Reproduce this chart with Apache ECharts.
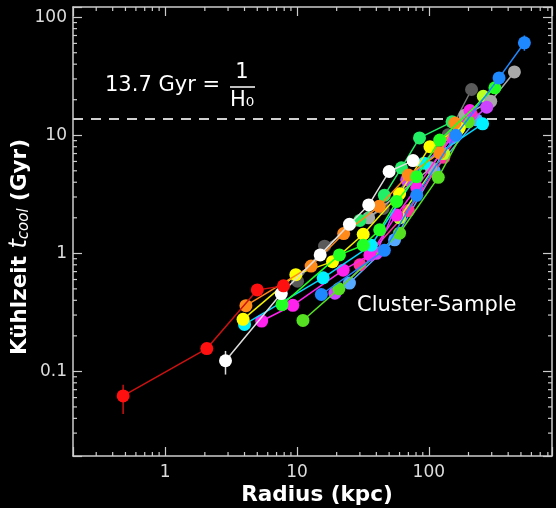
<!DOCTYPE html>
<html><head><meta charset="utf-8">
<script src="https://cdn.jsdelivr.net/npm/echarts@6/dist/echarts.min.js"></script>
<style>html,body{margin:0;padding:0;background:#000}#c{width:556px;height:508px}</style>
</head><body><div id="c"></div>
<script>
// ---- axis ranges & ticks ----
const X_MIN = 0.2, X_MAX = 860;
const Y_MIN = 0.0192, Y_MAX = 122;
const xTickLabels = [1, 10, 100];
const yTickLabels = [0.1, 1, 10, 100];
const xMinorTicks = [0.3,0.4,0.5,0.6,0.7,0.8,0.9,2,3,4,5,6,7,8,9,20,30,40,50,60,70,80,90,200,300,400,500,600,700,800];
const yMinorTicks = [0.03,0.04,0.05,0.06,0.07,0.08,0.09,0.2,0.3,0.4,0.5,0.6,0.7,0.8,0.9,2,3,4,5,6,7,8,9,20,30,40,50,60,70,80,90];
const hubbleTime = 13.7;

// ---- cluster profiles: [radius kpc, t_cool Gyr] ----
const clRed     = [[0.48,0.062],[2.07,0.156],[5.0,0.49],[7.9,0.53]];
const clWhite   = [[2.87,0.123],[7.6,0.456],[15,0.97],[25,1.76],[35,2.57],[50,4.93],[76,6.1]];
const clOrange  = [[4.1,0.36],[12.8,0.78],[22.6,1.47],[42,2.5],[70,4.6],[121,7.1],[158,12.7]];
const clYellow  = [[3.9,0.276],[9.8,0.66],[18.6,0.85],[31.8,1.45],[60,3.2],[102,8.0],[170,11.5]];
const clCyan    = [[4.0,0.25],[15.8,0.62],[36.6,1.17],[92,5.8],[256,12.5]];
const clMagenta = [[5.4,0.267],[9.3,0.363],[22.4,0.72],[35.7,0.97],[57,2.11],[81,3.6],[205,16.2]];
const clViolet  = [[19.4,0.46],[40,1.0],[68,4.2],[150,9.5],[275,17.3]];
const clGreen   = [[11.1,0.27],[20.8,0.50],[60,1.48],[118,4.4],[200,13]];
const clLime    = [[7.7,0.368],[21,0.97],[31.8,1.17],[42.4,1.58],[57,2.75],[81,4.45],[121,9.1],[317,25.2]];
const clSpring  = [[30,1.9],[46,3.1],[62,5.3],[85,9.5],[150,13]];
const clBlue    = [[15.3,0.448],[46,1.06],[81,3.1],[160,10],[341,30.6],[531,60.7]];
const clGray    = [[35,2.0],[104,5.3],[188,14.8],[295,19.4],[446,34.4]];
const clDarkGray= [[10.1,0.58],[16.2,1.15],[45,2.4],[140,10.1],[211,24.4]];
const clPink    = [[30,0.8],[70,2.3],[130,6.5],[210,15]];
const clSky     = [[25,0.56],[55,1.3],[110,5],[230,13.5]];
const clYGreen  = [[60,2.0],[130,7],[259,21.4]];

// error bars: [x, low, high]
const errBars = [[0.48,0.0436,0.077,'#cc1111'],[2.87,0.094,0.149,'#dddddd'],[531,52,70,'#1e88ff']];

const profiles = [
  {d:clSky, c:'#55aaff', l:'#55aaff'},
  {d:clPink, c:'#ff3399', l:'#ff3399'},
  {d:clYGreen, c:'#bbff22', l:'#bbff22'},
  {d:clDarkGray, c:'#5a5a5a', l:'#777777'},
  {d:clGray, c:'#a8a8a8', l:'#a8a8a8'},
  {d:clSpring, c:'#22ee66', l:'#22ee66'},
  {d:clViolet, c:'#cc44ff', l:'#cc44ff'},
  {d:clGreen, c:'#55e022', l:'#55e022'},
  {d:clMagenta, c:'#ff22ee', l:'#ff22ee'},
  {d:clCyan, c:'#00f0ff', l:'#00d8ff'},
  {d:clYellow, c:'#ffff00', l:'#eeee00'},
  {d:clOrange, c:'#ff8a1a', l:'#ff8a1a'},
  {d:clLime, c:'#22ff22', l:'#22ff22'},
  {d:clBlue, c:'#1e88ff', l:'#1e88ff'},
  {d:clWhite, c:'#ffffff', l:'#dddddd'},
  {d:clRed, c:'#ff1010', l:'#cc1111'}
];

const FONT = 'DejaVu Sans';
const AX = '#cccccc';
function isPow10(v){ const l = Math.log10(v); return Math.abs(l - Math.round(l)) < 1e-6; }
function fmt(v){ if(!isPow10(v)) return ''; return v >= 1 ? String(Math.round(v)) : String(Math.round(v*10)/10); }

const chart = echarts.init(document.getElementById('c'), null, {renderer:'canvas'});

const series = [];
series.push({
  type:'line', data:[[X_MIN,hubbleTime],[X_MAX,hubbleTime]], symbol:'none', silent:true, z:1,
  lineStyle:{color:'#cfcfcf', width:2, type:[10,8]}
});
series.push({
  type:'custom', data: errBars.map(e=>[e[0],e[1],e[2]]), z:2, silent:true,
  renderItem(params, api){
    const e = errBars[params.dataIndex];
    const p1 = api.coord([api.value(0), api.value(1)]);
    const p2 = api.coord([api.value(0), api.value(2)]);
    return {type:'line', shape:{x1:p1[0],y1:p1[1],x2:p2[0],y2:p2[1]}, style:{stroke:e[3], lineWidth:1.5}};
  }
});
profiles.forEach((p,i)=>{
  series.push({
    type:'line', data:p.d, symbol:'circle', symbolSize:13, z:3+i, silent:true,
    itemStyle:{color:p.c}, lineStyle:{color:p.l, width:1.5}
  });
});
// minor ticks
series.push({
  type:'custom', data: xMinorTicks.map(v=>[v, Y_MIN]), z:20, silent:true, clip:false,
  renderItem(params, api){
    const v = api.value(0);
    const b = api.coord([v, Y_MIN]), t = api.coord([v, Y_MAX]);
    return {type:'group', children:[
      {type:'line', shape:{x1:b[0],y1:b[1],x2:b[0],y2:b[1]-4}, style:{stroke:AX,lineWidth:1.2}},
      {type:'line', shape:{x1:t[0],y1:t[1],x2:t[0],y2:t[1]+4}, style:{stroke:AX,lineWidth:1.2}}
    ]};
  }
});
series.push({
  type:'custom', data: yMinorTicks.map(v=>[X_MIN, v]), z:20, silent:true, clip:false,
  renderItem(params, api){
    const v = api.value(1);
    const l = api.coord([X_MIN, v]), r = api.coord([X_MAX, v]);
    return {type:'group', children:[
      {type:'line', shape:{x1:l[0],y1:l[1],x2:l[0]+4,y2:l[1]}, style:{stroke:AX,lineWidth:1.2}},
      {type:'line', shape:{x1:r[0],y1:r[1],x2:r[0]-4,y2:r[1]}, style:{stroke:AX,lineWidth:1.2}}
    ]};
  }
});

const axisCommon = {
  type:'log', logBase:10, splitLine:{show:false},
  axisLine:{show:true, lineStyle:{color:AX, width:1.5}},
  axisTick:{show:true, inside:true, length:9, lineStyle:{color:AX, width:1.2}},
  minorTick:{show:false}
};

chart.setOption({
  backgroundColor:'#000',
  animation:false,
  grid:{left:73, right:4, top:7, bottom:52, containLabel:false},
  xAxis:[
    Object.assign({}, axisCommon, {min:X_MIN, max:X_MAX, position:'bottom',
      axisLabel:{show:true, formatter:fmt, color:'#dcdcdc', fontSize:17, fontFamily:FONT, margin:8}}),
    Object.assign({}, axisCommon, {min:X_MIN, max:X_MAX, position:'top', axisLabel:{show:false}})
  ],
  yAxis:[
    Object.assign({}, axisCommon, {min:Y_MIN, max:Y_MAX, position:'left',
      axisLabel:{show:true, formatter:fmt, color:'#dcdcdc', fontSize:17, fontFamily:FONT, margin:6}}),
    Object.assign({}, axisCommon, {min:Y_MIN, max:Y_MAX, position:'right', axisLabel:{show:false}})
  ],
  series: series,
  graphic:[
    {type:'text', x:317, y:495, style:{text:'Radius (kpc)', fill:'#fff', font:'bold 21.5px "DejaVu Sans"', align:'center', verticalAlign:'middle'}},
    {type:'text', x:20, y:247, rotation:Math.PI/2, style:{
      text:'{b|Kühlzeit }{t|t}{s|cool}{b| (Gyr)}', align:'center', verticalAlign:'middle', fill:'#fff',
      rich:{
        b:{font:'bold 21.5px "DejaVu Sans"', fill:'#fff'},
        t:{font:'italic 24px "DejaVu Sans"', fill:'#fff'},
        s:{font:'italic 15px "DejaVu Sans"', fill:'#fff', verticalAlign:'bottom', padding:[7,0,0,0]}
      }}},
    {type:'text', x:105, y:86, style:{text:'13.7 Gyr =', fill:'#fff', font:'21px "DejaVu Sans"', align:'left', verticalAlign:'middle'}},
    {type:'text', x:242, y:73, style:{text:'1', fill:'#fff', font:'21px "DejaVu Sans"', align:'center', verticalAlign:'middle'}},
    {type:'line', shape:{x1:230, y1:87, x2:255, y2:87}, style:{stroke:'#fff', lineWidth:1.5}},
    {type:'text', x:242, y:101, style:{text:'H₀', fill:'#fff', font:'21px "DejaVu Sans"', align:'center', verticalAlign:'middle'}},
    {type:'text', x:357, y:306, style:{text:'Cluster-Sample', fill:'#fff', font:'21px "DejaVu Sans"', align:'left', verticalAlign:'middle'}}
  ]
});
</script>
</body></html>
